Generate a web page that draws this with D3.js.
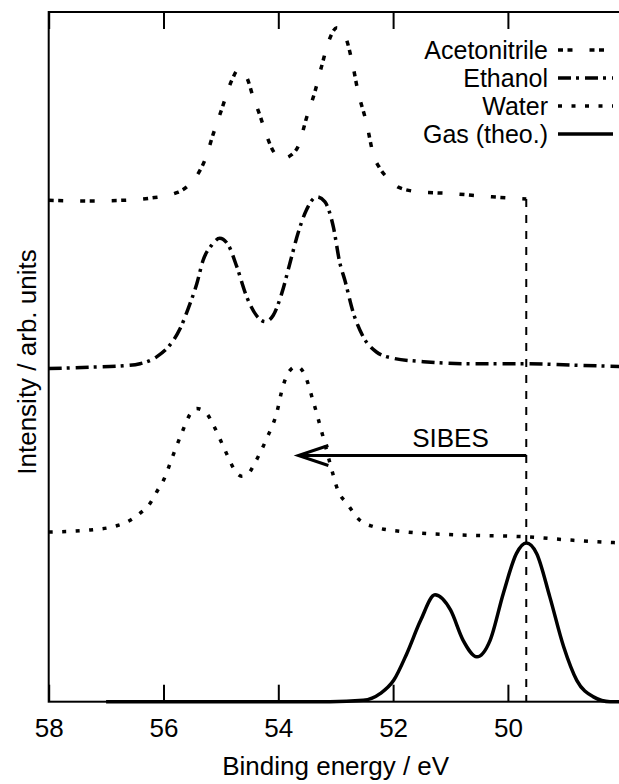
<!DOCTYPE html>
<html>
<head>
<meta charset="utf-8">
<script src="https://cdn.jsdelivr.net/npm/d3@7"></script>
<style>
  body { margin: 0; background: #fff; }
  text { font-family: "Liberation Sans", Arial, sans-serif; fill: #000; }
</style>
</head>
<body>
<div id="viz1"></div>
<script>
// XPS spectra, binding energy axis runs from 58 down to 48 eV

var energyTicks = [58, 56, 54, 52, 50];

// [binding energy, intensity], left to right
var acetonitrile = [
  [58.0, 7.27], [57.28, 7.26], [56.70, 7.27], [56.24, 7.30], [55.77, 7.38],
  [55.60, 7.46], [55.36, 7.71], [55.28, 7.85], [55.13, 8.24], [54.99, 8.58],
  [54.81, 9.01], [54.70, 9.16], [54.55, 9.05], [54.44, 8.77], [54.32, 8.50],
  [54.20, 8.20], [54.06, 7.95], [53.91, 7.88], [53.77, 7.93], [53.65, 8.06],
  [53.51, 8.46], [53.36, 8.85], [53.24, 9.23], [53.12, 9.58], [52.98, 9.77],
  [52.85, 9.68], [52.72, 9.30], [52.61, 8.84], [52.46, 8.38], [52.35, 7.95],
  [52.22, 7.72], [52.05, 7.56], [51.91, 7.46], [51.53, 7.39], [51.04, 7.37],
  [50.28, 7.32], [49.68, 7.29]
];

var ethanol = [
  [58.0, 4.83], [57.28, 4.85], [56.70, 4.87], [56.41, 4.90], [56.12, 5.00],
  [55.89, 5.17], [55.71, 5.41], [55.57, 5.70], [55.42, 6.06], [55.31, 6.40],
  [55.16, 6.62], [55.02, 6.72], [54.87, 6.62], [54.72, 6.30], [54.55, 5.87],
  [54.38, 5.60], [54.23, 5.51], [54.09, 5.60], [53.94, 5.92], [53.80, 6.35],
  [53.65, 6.81], [53.51, 7.13], [53.33, 7.32], [53.19, 7.25], [53.04, 6.88],
  [52.93, 6.37], [52.84, 6.11], [52.69, 5.63], [52.52, 5.29], [52.29, 5.07],
  [52.00, 4.98], [51.47, 4.93], [50.60, 4.90], [49.70, 4.90], [48.86, 4.88],
  [48.0, 4.86]
];

var water = [
  [58.0, 2.46], [57.28, 2.49], [56.82, 2.55], [56.58, 2.63], [56.41, 2.73],
  [56.23, 2.88], [56.12, 3.04], [56.00, 3.21], [55.83, 3.58], [55.66, 3.94],
  [55.55, 4.15], [55.42, 4.25], [55.25, 4.18], [55.13, 4.01], [54.93, 3.65],
  [54.76, 3.36], [54.64, 3.27], [54.52, 3.31], [54.41, 3.46], [54.20, 3.82],
  [54.03, 4.18], [53.92, 4.57], [53.80, 4.80], [53.68, 4.86], [53.55, 4.76],
  [53.39, 4.35], [53.22, 3.84], [53.10, 3.46], [52.95, 3.04], [52.81, 2.88],
  [52.58, 2.63], [52.35, 2.54], [51.76, 2.46], [50.89, 2.42], [49.68, 2.39],
  [48.86, 2.34], [48.0, 2.30]
];

var gas = [
  [57.0, 0.0], [53.1, 0.0], [52.52, 0.02], [52.22, 0.12], [51.99, 0.31],
  [51.76, 0.70], [51.52, 1.18], [51.27, 1.55], [51.00, 1.33], [50.78, 0.89],
  [50.54, 0.65], [50.31, 0.89], [50.08, 1.57], [49.85, 2.15], [49.68, 2.30],
  [49.50, 2.15], [49.27, 1.52], [49.03, 0.80], [48.80, 0.31], [48.51, 0.07],
  [48.22, 0.0], [47.9, 0.0]
];

// SIBES shift, gas peak -> water peak
var sibes = [49.68, 53.65];
var sibesLevel = 3.57;

// set the dimensions
var margin = {top: 12, right: 0, bottom: 82, left: 48.7},
    width = 574,
    height = 689.7;

var svg = d3.select("#viz1")
  .append("svg")
    .attr("width", 619)
    .attr("height", 784)
  .append("g")
    .attr("transform", "translate(" + margin.left + "," + margin.top + ")");

var x = d3.scaleLinear().domain([58, 48]).range([0, width]);
var y = d3.scaleLinear().domain([0, 10]).range([height, 0]);

// frame (right side falls outside the picture)
svg.append("rect")
  .attr("width", width).attr("height", height)
  .attr("fill", "none").attr("stroke", "#000").attr("stroke-width", 2);

// bottom and top ticks
svg.append("g")
  .attr("transform", "translate(0," + height + ")")
  .call(d3.axisBottom(x).tickValues(energyTicks).tickSizeInner(-17).tickSizeOuter(0).tickPadding(17))
  .call(function(g) {
    g.select(".domain").remove();
    g.selectAll("line").attr("stroke-width", 2);
    g.selectAll("text").attr("font-size", 26).attr("dy", "0.71em")
      .attr("font-family", "Liberation Sans, Arial, sans-serif");
  });
svg.append("g")
  .call(d3.axisTop(x).tickValues(energyTicks).tickSizeInner(-17).tickSizeOuter(0).tickFormat(""))
  .call(function(g) {
    g.select(".domain").remove();
    g.selectAll("line").attr("stroke-width", 2);
  });

// axis titles
svg.append("text")
  .attr("text-anchor", "middle")
  .attr("x", width / 2)
  .attr("y", 763)
  .attr("font-size", 26)
  .text("Binding energy / eV");
svg.append("text")
  .attr("text-anchor", "middle")
  .attr("transform", "translate(-13,350) rotate(-90)")
  .attr("font-size", 26)
  .text("Intensity / arb. units");

// reference line at the gas peak
svg.append("line")
  .attr("x1", x(sibes[0])).attr("x2", x(sibes[0]))
  .attr("y1", y(acetonitrile[acetonitrile.length - 1][1])).attr("y2", y(0))
  .attr("stroke", "#000").attr("stroke-width", 2)
  .attr("stroke-dasharray", "8,8");

var series = [
  {name: "Acetonitrile", data: acetonitrile, dash: "5,4.5,5,17"},
  {name: "Ethanol", data: ethanol, dash: "13,5,3,6"},
  {name: "Water", data: water, dash: "4,9.5"},
  {name: "Gas (theo.)", data: gas, dash: null}
];

var line = d3.line()
  .x(function(d) { return x(d[0]); })
  .y(function(d) { return y(d[1]); })
  .curve(d3.curveMonotoneX);

svg.selectAll(".spec")
  .data(series)
  .enter().append("path")
    .attr("class", "spec")
    .attr("d", function(d) { return line(d.data); })
    .attr("fill", "none")
    .attr("stroke", "#000")
    .attr("stroke-width", 3.5)
    .attr("stroke-dasharray", function(d) { return d.dash; });

// SIBES arrow
svg.append("line")
  .attr("x1", x(sibes[0])).attr("x2", x(sibes[1]))
  .attr("y1", y(sibesLevel)).attr("y2", y(sibesLevel))
  .attr("stroke", "#000").attr("stroke-width", 3);
svg.append("path")
  .attr("d", "M" + (x(sibes[1]) + 30) + "," + (y(sibesLevel) - 10) +
             "L" + x(sibes[1]) + "," + y(sibesLevel) +
             "L" + (x(sibes[1]) + 30) + "," + (y(sibesLevel) + 10))
  .attr("fill", "none").attr("stroke", "#000").attr("stroke-width", 3);
svg.append("text")
  .attr("text-anchor", "middle")
  .attr("x", x(51.0))
  .attr("y", y(sibesLevel) - 8)
  .attr("font-size", 26)
  .text("SIBES");

// legend
var legend = svg.append("g")
  .attr("transform", "translate(" + (548 - margin.left) + "," + (50 - margin.top) + ")");
var row = legend.selectAll("g")
  .data(series)
  .enter().append("g")
    .attr("transform", function(d, i) { return "translate(0," + (i * 28) + ")"; });
row.append("text")
  .attr("text-anchor", "end")
  .attr("dy", "0.35em")
  .attr("font-size", 25)
  .text(function(d) { return d.name; });
row.append("line")
  .attr("x1", 10).attr("x2", 65)
  .attr("stroke", "#000").attr("stroke-width", 3.5)
  .attr("stroke-dasharray", function(d) { return d.dash; });
</script>
</body>
</html>
